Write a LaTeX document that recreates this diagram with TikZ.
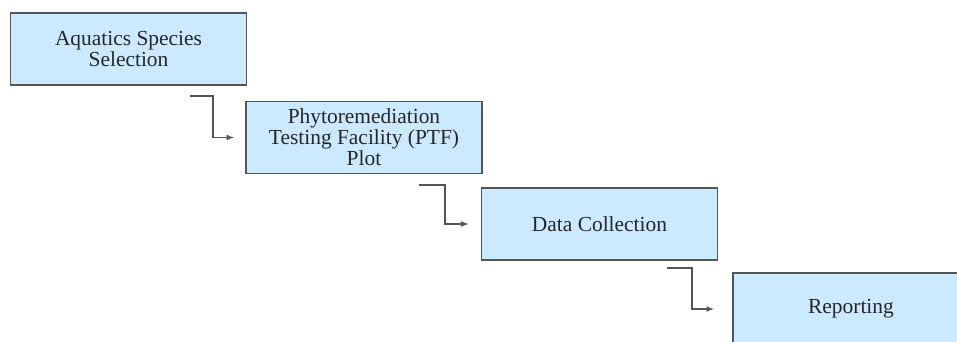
\documentclass[tikz,border=0pt]{standalone}
\usepackage{fontspec}
\setmainfont{Liberation Serif}
\usetikzlibrary{arrows.meta,calc}
\definecolor{boxblue}{RGB}{204,234,255}
\definecolor{edgegray}{RGB}{85,85,85}
\tikzset{
  stage/.style={draw=edgegray, fill=boxblue, line width=0.9pt, minimum width=4.96cm, minimum height=1.51cm, align=center, inner sep=2pt, font=\fontsize{12.8}{12.6}\selectfont, text=black!85},
  elbow/.style={draw=edgegray, line width=0.7pt, -{Latex[length=4.5pt,width=3.5pt]}}
}
\begin{document}
\begin{tikzpicture}[x=0.021cm,y=-0.021cm]
    \useasboundingbox (0,0) rectangle (957,342);
    \clip (0,0) rectangle (957,342);
    % Stages
    \node[stage] (species) at (128.5,49) {Aquatics Species\\Selection};
    \node[stage] (ptf) at (364,137.5) {Phytoremediation\\Testing Facility (PTF)\\Plot};
    \node[stage] (data) at (599.5,224) {Data Collection};
    \node[stage] (report) at (851,309) {Reporting};

    % Elbow connectors
    \coordinate (s1) at (190,96);
    \coordinate (e1) at ($(ptf.west)+(-11,0)$);
    \draw[elbow] (s1) -- ++(23,0) |- (e1);

    \coordinate (s2) at (419,185);
    \coordinate (e2) at ($(data.west)+(-12,0)$);
    \draw[elbow] (s2) -- ++(26,0) |- (e2);

    \coordinate (s3) at (667,268);
    \coordinate (e3) at ($(report.west)+(-18,0)$);
    \draw[elbow] (s3) -- ++(25,0) |- (e3);
\end{tikzpicture}
\end{document}
